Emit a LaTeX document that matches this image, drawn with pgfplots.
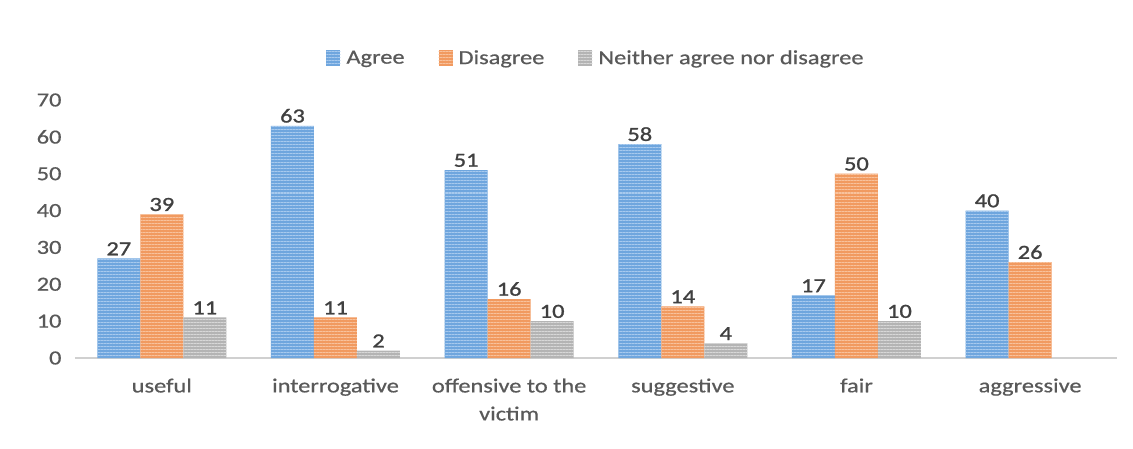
\documentclass[border=0pt]{standalone}
\usepackage{fontspec}
\setmainfont{Carlito}
\newfontfamily\cfont[FakeStretch=1.22,FakeBold=0.6]{Carlito}
\newfontfamily\cfontb[FakeStretch=1.22,FakeBold=1.2]{Carlito}
\usepackage{pgfplots}
\pgfplotsset{compat=1.18}
\usetikzlibrary{patterns.meta}
\definecolor{txt}{HTML}{595959}
\definecolor{lbl}{HTML}{404040}
\definecolor{bluefill}{HTML}{6FA6DE}
\definecolor{bluestripe}{HTML}{A8CAEE}
\definecolor{orangefill}{HTML}{F19A60}
\definecolor{orangestripe}{HTML}{F8C29D}
\definecolor{grayfill}{HTML}{B4B4B4}
\definecolor{graystripe}{HTML}{D8D8D8}
\definecolor{axisline}{HTML}{D0D0D0}
\begin{document}
\begin{tikzpicture}
\useasboundingbox (-75pt,-90pt) rectangle (1058pt,358pt);
\begin{axis}[
  scale only axis,
  width=1042pt, height=258pt,
  ybar=0pt, bar width=43pt,
  xmin=-0.5, xmax=5.5,
  ymin=0, ymax=70,
  ytick={0,10,...,70},
  xtick={0,1,2,3,4,5},
  xticklabels={useful,interrogative,{offensive to the\\victim},suggestive,fair,aggressive},
  xticklabel style={align=center, font=\cfont\fontsize{20}{28}\selectfont, text=txt, yshift=-17pt},
  yticklabel style={font=\cfont\fontsize{20}{24}\selectfont, text=txt, xshift=-10pt},
  /pgf/number format/assume math mode=true,
  axis y line=none,
  axis x line*=bottom,
  x axis line style={draw=axisline, line width=2pt, -},
  major tick length=0pt,
  ytick style={draw=none}, xtick style={draw=none},
  hide y axis=false,
  separate axis lines,
  axis line style={-},
  y axis line style={draw=none},
  nodes near coords,
  every node near coord/.append style={font=\cfontb\fontsize{20}{24}\selectfont, text=lbl, inner sep=3pt},
  legend style={at={(axis description cs:0.5,1.163)}, anchor=center, draw=none, legend columns=-1,
    font=\cfont\fontsize{20}{24}\selectfont, text=txt,
    /tikz/every odd column/.append style={column sep=4pt},
    /tikz/every even column/.append style={column sep=32pt}},
  legend image code/.code={\draw[#1, draw=none] (0pt,-8pt) rectangle (14pt,8pt);},
]
\addplot[fill=bluefill, draw=none, postaction={pattern={Lines[angle=0,distance=3pt,line width=1pt]}, pattern color=bluestripe}]
  coordinates {(0,27) (1,63) (2,51) (3,58) (4,17) (5,40)};
\addplot[fill=orangefill, draw=none, postaction={pattern={Lines[angle=0,distance=3pt,line width=1pt]}, pattern color=orangestripe}]
  coordinates {(0,39) (1,11) (2,16) (3,14) (4,50) (5,26)};
\addplot[fill=grayfill, draw=none, postaction={pattern={Lines[angle=0,distance=3pt,line width=1pt]}, pattern color=graystripe}]
  coordinates {(0,11) (1,2) (2,10) (3,4) (4,10)};
\legend{Agree,Disagree,Neither agree nor disagree}
\end{axis}
\end{tikzpicture}
\end{document}
